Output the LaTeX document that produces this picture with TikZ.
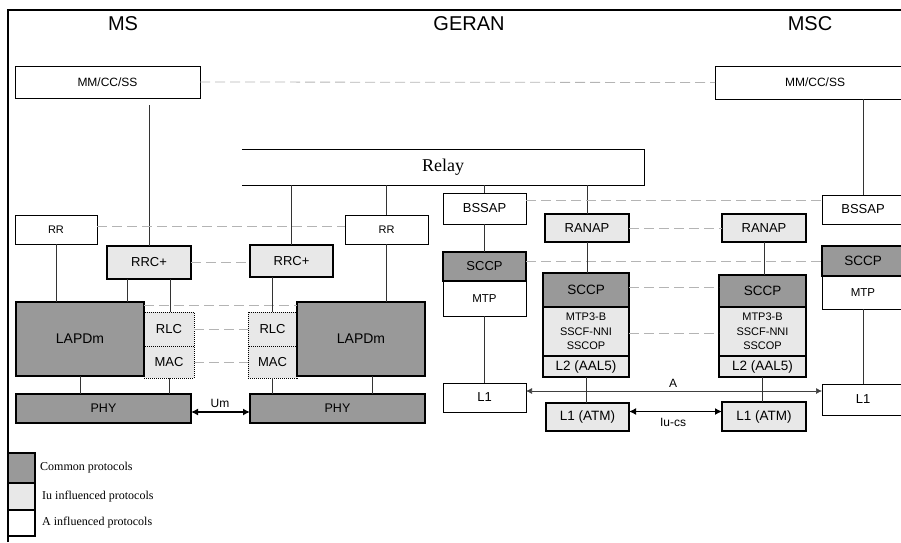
\documentclass[tikz,border=0pt]{standalone}
\usepackage{fontspec}
\setmainfont{Liberation Serif}
\setsansfont{Liberation Sans}
\usetikzlibrary{arrows.meta}
\definecolor{dk}{HTML}{999999}
\definecolor{lt}{HTML}{E8E8E8}
\definecolor{dsh}{HTML}{B4B4B4}
\newcommand\fs[1]{\fontsize{#1}{#1}\selectfont}
\tikzset{
 pb/.style={draw=black, line width=0.9pt, inner sep=0pt, outer sep=0pt, align=center, font=\sffamily\fs{12.5}},
 wbox/.style={pb, fill=white},
 lbox/.style={pb, fill=lt, line width=1.3pt},
 dbox/.style={pb, fill=dk, line width=1.3pt},
 mbox/.style={pb, fill=lt, line width=1pt, densely dotted, font=\sffamily\fs{13}},
 peer/.style={draw=dsh, line width=0.8pt, dash pattern=on 10pt off 5pt},
 link/.style={draw=black!80, line width=0.8pt},
 bigarrow/.style={line width=1.5pt, {Latex[length=7pt,width=7pt]}-{Latex[length=7pt,width=7pt]}},
 thinarrow/.style={draw=black!75, line width=0.7pt, {Latex[length=6pt,width=6pt]}-{Latex[length=6pt,width=6pt]}},
 head/.style={font=\sffamily\fs{20}},
 lab/.style={font=\sffamily\fs{12}, inner sep=0pt},
 legtext/.style={font=\rmfamily\fs{12}, anchor=west, inner sep=0pt},
}
\newcommand\pbox[7]{\node[#1, minimum width={(#5-#3)*1pt}, minimum height={(#6-#4)*1pt}] (#2) at ({(#3+#5)/2},{(#4+#6)/2}) {#7};}
\begin{document}
\begin{tikzpicture}[x=1pt,y=-1pt]
\useasboundingbox (0,0) rectangle (901,542);
% frame
\draw[line width=1.5pt] (8,542) -- (8,10) -- (901,10);
% headers
\node[head] (hMS) at (123,24) {MS};
\node[head] (hGERAN) at (469,24) {GERAN};
\node[head] (hMSC) at (810,24) {MSC};
% MS side
\pbox{wbox,font=\sffamily\fs{12}}{mmL}{15}{66}{200}{98}{MM/CC/SS}
\pbox{wbox,font=\sffamily\fs{12}}{mmR}{715}{66}{915}{99}{MM/CC/SS}
\pbox{wbox,font=\sffamily\fs{11}}{rrL}{15}{215}{97}{244}{RR}
\pbox{wbox,font=\sffamily\fs{11}}{rrR}{345}{215}{428}{244}{RR}
\pbox{lbox,font=\sffamily\fs{13}}{rrcL}{107}{246}{191}{279}{RRC+}
\pbox{lbox,font=\sffamily\fs{13}}{rrcR}{250}{245}{333}{277}{RRC+}
\pbox{mbox}{rlcL}{144}{312}{194}{346}{RLC}
\pbox{mbox}{macL}{144}{346}{194}{378}{MAC}
\pbox{mbox}{rlcR}{248}{312}{297}{346}{RLC}
\pbox{mbox}{macR}{248}{346}{297}{378}{MAC}
\pbox{dbox,font=\sffamily\fs{14}}{lapL}{16}{302}{144}{376}{LAPDm}
\pbox{dbox,font=\sffamily\fs{14}}{lapR}{297}{302}{425}{376}{LAPDm}
\pbox{dbox}{phyL}{16}{394}{191}{423}{PHY}
\pbox{dbox}{phyR}{250}{394}{425}{423}{PHY}
% Relay
\node[inner sep=0pt, minimum width=402pt, minimum height=35pt, font=\rmfamily\fs{18}] (relay) at (443,167.5) {Relay};
\draw[line width=1pt] (relay.north west) -- (relay.north east) -- (relay.south east) -- (relay.south west);
% GERAN
\pbox{wbox,font=\sffamily\fs{13}}{bssapG}{443}{193}{526}{224}{BSSAP}
\pbox{dbox,font=\sffamily\fs{13}}{sccpG}{443}{252}{526}{281}{SCCP}
\pbox{wbox,font=\sffamily\fs{11.5}}{mtpG}{443}{281}{526}{316}{MTP}
\pbox{wbox,font=\sffamily\fs{13}}{l1G}{443}{383}{526}{412}{L1}
\pbox{lbox,font=\sffamily\fs{13}}{ranapL}{545}{214}{629}{242}{RANAP}
\pbox{dbox,font=\sffamily\fs{13.5}}{sccpL}{543}{273}{629}{307}{SCCP}
\pbox{lbox,font=\sffamily\fontsize{11}{14.5}\selectfont}{m3L}{543}{307}{629}{356}{MTP3-B\\SSCF-NNI\\SSCOP}
\pbox{lbox,font=\sffamily\fs{13.5}}{l2L}{543}{356}{629}{377}{L2 (AAL5)}
\pbox{lbox,font=\sffamily\fs{13.5}}{atmL}{546}{403}{629}{431}{L1 (ATM)}
\pbox{lbox,font=\sffamily\fs{13}}{ranapR}{722}{214}{806}{242}{RANAP}
\pbox{dbox,font=\sffamily\fs{13.5}}{sccpR2}{719}{275}{806}{307}{SCCP}
\pbox{lbox,font=\sffamily\fontsize{11}{14.5}\selectfont}{m3R}{719}{307}{806}{356}{MTP3-B\\SSCF-NNI\\SSCOP}
\pbox{lbox,font=\sffamily\fs{13.5}}{l2R}{719}{356}{806}{377}{L2 (AAL5)}
\pbox{lbox,font=\sffamily\fs{13.5}}{atmR}{722}{402}{806}{431}{L1 (ATM)}
\draw[line width=2.6pt] (m3L.south west) -- (m3L.south east);
\draw[line width=2.6pt] (m3R.south west) -- (m3R.south east);
% MSC
\pbox{wbox,font=\sffamily\fs{13}}{bssapR}{822}{195}{904}{224}{BSSAP}
\pbox{dbox,font=\sffamily\fs{13.5}}{sccpR}{822}{246}{904}{276}{SCCP}
\pbox{wbox,font=\sffamily\fs{11.5}}{mtpR}{822}{276}{904}{309}{MTP}
\pbox{wbox,font=\sffamily\fs{13}}{l1R}{822}{384}{904}{415}{L1}
% legend
\pbox{dbox,line width=1.6pt}{lg1}{8}{453}{35}{483}{}
\pbox{lbox,line width=1.6pt}{lg2}{8}{483}{35}{510}{}
\pbox{wbox,line width=1.6pt}{lg3}{8}{510}{35}{536}{}
\node[legtext] (lt1) at ([xshift=5pt]lg1.east) {Common protocols};
\node[legtext] (lt2) at ([xshift=7pt]lg2.east) {Iu influenced protocols};
\node[legtext] (lt3) at ([xshift=7pt]lg3.east) {A influenced protocols};
% connectors
\draw[peer] (mmL.east) -- (mmR.west);
\draw[link] ([yshift=-7pt]mmL.south -| rrcL.north) -- (rrcL.north);
\draw[link] (bssapR.north) -- (bssapR.north |- mmR.south);
\draw[peer] ([yshift=3pt]rrL.east) -- ([yshift=3pt]rrR.west);
\draw[link] (rrL.south) -- (rrL.south |- lapL.north);
\draw[link] ([xshift=-22pt]rrcL.south) -- ([xshift=-22pt]rrcL.south |- lapL.north);
\draw[link] ([xshift=21pt]rrcL.south) -- ([xshift=21pt]rrcL.south |- rlcL.north);
\draw[peer] (rrcL.east) -- (rrcL.east -| rrcR.west);
\draw[peer] ([yshift=-3pt]lapL.north east) -- ([yshift=-3pt]lapR.north west);
\draw[peer] (rlcL.east) -- (rlcR.west);
\draw[peer] (macL.east) -- (macR.west);
\draw[link] (lapL.south) -- (lapL.south |- phyL.north);
\draw[link] (macL.south) -- (macL.south |- phyL.north);
\draw[bigarrow] ([yshift=-3.5pt]phyL.east) -- ([yshift=-3.5pt]phyR.west);
\node[lab] (um) at (220,403) {Um};
\draw[link] (rlcR.north |- rrcR.south) -- (rlcR.north);
\draw[link] (macR.south) -- (macR.south |- phyR.north);
\draw[link] ([xshift=11pt]lapR.south) -- ([xshift=11pt]lapR.south |- phyR.north);
\draw[link] (rrR.south) -- (rrR.south |- lapR.north);
\draw[link] (rrcR.north |- relay.south) -- (rrcR.north);
\draw[link] (rrR.north |- relay.south) -- (rrR.north);
\draw[link] (bssapG.north |- relay.south) -- (bssapG.north);
\draw[link] (ranapL.north |- relay.south) -- (ranapL.north);
\draw[peer] ([yshift=8.5pt]bssapG.east) -- ([yshift=8.5pt]bssapG.east -| bssapR.west);
\draw[link] (bssapG.south) -- (sccpG.north);
\draw[link] (mtpG.south) -- (l1G.north);
\draw[peer] ([yshift=5.5pt]sccpG.east) -- ([yshift=5.5pt]sccpG.east -| sccpR.west);
\draw[peer] (ranapL.east) -- (ranapR.west);
\draw[link] (ranapL.south) -- (ranapL.south |- sccpL.north);
\draw[link] (ranapR.south) -- (ranapR.south |- sccpR2.north);
\draw[peer] ([yshift=3pt]sccpL.east) -- ([yshift=3pt]sccpL.east -| sccpR2.west);
\draw[peer] ([yshift=-1.5pt]m3L.east) -- ([yshift=-1.5pt]m3L.east -| m3R.west);
\draw[thinarrow] ([yshift=6.5pt]l1G.east) -- ([yshift=6.5pt]l1G.east -| l1R.west);
\node[lab] (alab) at (673,383) {A};
\draw[link] (l2L.south) -- (l2L.south |- atmL.north);
\draw[link] (l2R.south) -- (l2R.south |- atmR.north);
\draw[bigarrow] ([yshift=5.5pt]atmL.east) -- ([yshift=5.5pt]atmL.east -| atmR.west);
\node[lab] (iucs) at (673,422) {Iu-cs};
\draw[link] (mtpR.south) -- (l1R.north);
\end{tikzpicture}
\end{document}
